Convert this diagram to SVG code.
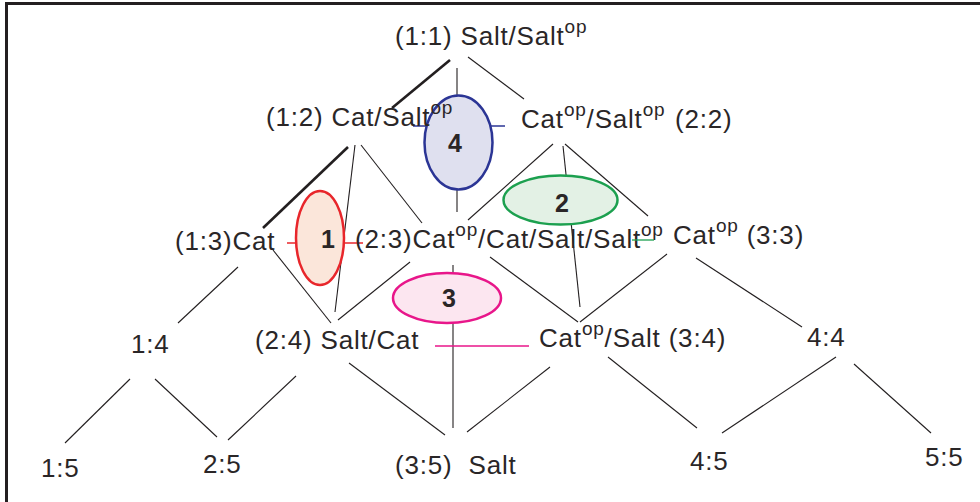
<svg xmlns="http://www.w3.org/2000/svg" width="980" height="502" viewBox="0 0 980 502">
<style>
  text { font-family: "Liberation Sans", Arial, sans-serif; fill: #2a2627; }
  .lbl { font-size: 26px; letter-spacing: 0.8px; }
  .sup { font-size: 19px; }
  .num { font-size: 25px; font-weight: bold; text-anchor: middle; letter-spacing: 0; }
  .ln { stroke: #231f20; stroke-width: 1.1; fill: none; }
  .thick { stroke: #231f20; stroke-width: 2.6; fill: none; }
</style>
<rect width="980" height="502" fill="#ffffff"/>
<g id="frame">
  <line x1="5" y1="3.5" x2="980" y2="3.5" stroke="#231f20" stroke-width="3"/>
  <line x1="6.5" y1="2" x2="6.5" y2="502" stroke="#231f20" stroke-width="3"/>
</g>
<g id="connectors">
  <line class="thick" x1="450" y1="60" x2="392" y2="108"/>
  <line class="ln" x1="457" y1="68" x2="457" y2="212"/>
  <line class="ln" x1="468" y1="57" x2="524" y2="99"/>
  <line class="thick" x1="348" y1="147" x2="263" y2="228"/>
  <line class="ln" x1="355" y1="145" x2="335" y2="312"/>
  <line class="ln" x1="361" y1="145" x2="422" y2="223"/>
  <line class="ln" x1="553" y1="144" x2="468" y2="220"/>
  <line class="ln" x1="563" y1="146" x2="580" y2="307"/>
  <line class="ln" x1="565" y1="144" x2="648" y2="216"/>
  <line class="ln" x1="273" y1="250" x2="331" y2="323"/>
  <line class="ln" x1="238" y1="267" x2="178" y2="323"/>
  <line class="ln" x1="410" y1="262" x2="338" y2="320"/>
  <line class="ln" x1="453" y1="265" x2="453" y2="428"/>
  <line class="ln" x1="490" y1="257" x2="578" y2="322"/>
  <line class="ln" x1="667" y1="254" x2="580" y2="322"/>
  <line class="ln" x1="696" y1="258" x2="802" y2="327"/>
  <line class="ln" x1="550" y1="367" x2="467" y2="432"/>
  <line class="ln" x1="608" y1="357" x2="697" y2="428"/>
  <line class="ln" x1="836" y1="357" x2="722" y2="433"/>
  <line class="ln" x1="854" y1="364" x2="931" y2="433"/>
  <line class="ln" x1="130" y1="379" x2="65" y2="443"/>
  <line class="ln" x1="155" y1="379" x2="217" y2="437"/>
  <line class="ln" x1="296" y1="376" x2="228" y2="440"/>
  <line class="ln" x1="349" y1="363" x2="445" y2="435"/>
  <line x1="413" y1="126" x2="505" y2="126" stroke="#2b3595" stroke-width="1.3"/>
  <line x1="287" y1="243" x2="363" y2="243" stroke="#e8262b" stroke-width="1.3"/>
  <line x1="435" y1="346" x2="529" y2="346" stroke="#e8168a" stroke-width="1.3"/>
</g>
<g id="e4"><ellipse cx="458.5" cy="142.5" rx="34" ry="47" fill="#dfe0ef" stroke="#2b3595" stroke-width="2.5"/><text class="num" x="455" y="152">4</text></g>
<g id="e1"><ellipse cx="320" cy="238" rx="24" ry="47" fill="#fbe6da" stroke="#e8262b" stroke-width="2.5"/><text class="num" x="328" y="248">1</text></g>
<g id="e2"><ellipse cx="560.5" cy="200" rx="57" ry="24.5" fill="#e3f1e5" stroke="#1ca04f" stroke-width="2.5"/><text class="num" x="562" y="212">2</text></g>
<g id="e3"><ellipse cx="447" cy="298" rx="54" ry="25" fill="#fce6f0" stroke="#e8168a" stroke-width="2.5"/><text class="num" x="449" y="307">3</text></g>
<g id="n11"><text class="lbl" x="395" y="45">(1:1) Salt/Salt<tspan class="sup" dy="-12">op</tspan></text></g>
<g id="n12"><text class="lbl" x="266" y="126">(1:2) Cat/Salt<tspan class="sup" dy="-12">op</tspan></text></g>
<g id="n22"><text class="lbl" x="521" y="128">Cat<tspan class="sup" dy="-12">op</tspan><tspan dy="12">/Salt</tspan><tspan class="sup" dy="-12">op</tspan><tspan dy="12" x="675">(2:2)</tspan></text></g>
<g id="n13"><text class="lbl" x="175" y="250">(1:3)Cat</text></g>
<g id="n23"><text class="lbl" x="355" y="248">(2:3)Cat<tspan class="sup" dy="-12">op</tspan><tspan dy="12">/Cat/Salt/Salt</tspan><tspan class="sup" dy="-12">op</tspan></text></g>
<line x1="632" y1="240" x2="654" y2="240" stroke="#1ca04f" stroke-width="1.3"/>
<g id="n33"><text class="lbl" x="673" y="244">Cat<tspan class="sup" dy="-12">op</tspan><tspan dy="12"> (3:3)</tspan></text></g>
<g id="n14"><text class="lbl" x="131" y="353">1:4</text></g>
<g id="n24"><text class="lbl" x="255" y="349">(2:4) Salt/Cat</text></g>
<g id="n34"><text class="lbl" x="539" y="347">Cat<tspan class="sup" dy="-12">op</tspan><tspan dy="12">/Salt (3:4)</tspan></text></g>
<g id="n44"><text class="lbl" x="807" y="346">4:4</text></g>
<g id="n15"><text class="lbl" x="41" y="477">1:5</text></g>
<g id="n25"><text class="lbl" x="203" y="473">2:5</text></g>
<g id="n35"><text class="lbl" x="395" y="474" xml:space="preserve">(3:5)  Salt</text></g>
<g id="n45"><text class="lbl" x="690" y="470">4:5</text></g>
<g id="n55"><text class="lbl" x="925" y="466">5:5</text></g>
</svg>
